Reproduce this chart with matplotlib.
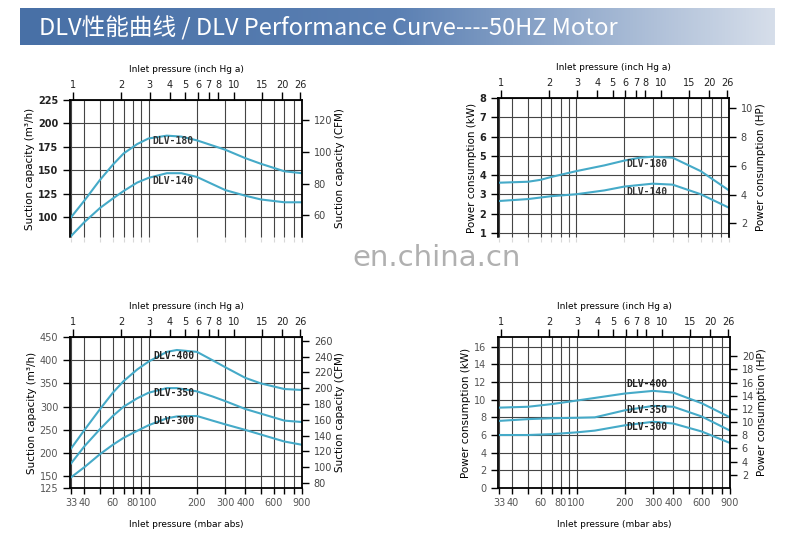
import matplotlib.pyplot as plt
import numpy as np
from matplotlib.colors import LinearSegmentedColormap

plt.rcParams['font.family'] = ['DejaVu Sans']

# x values in mbar abs
x_180 = [33, 40, 50, 60, 70, 85, 100, 130, 160, 200, 300, 400, 500, 700, 900]
y_180 = [100, 118, 140, 156, 168, 178, 184, 187, 186, 182, 172, 163, 157, 149, 147]
x_140 = [33, 40, 50, 60, 70, 85, 100, 130, 160, 200, 300, 400, 500, 700, 900]
y_140 = [80, 95, 110, 120, 128, 137, 142, 147, 147, 143, 129, 123, 119, 116, 116]

px_180 = [33, 50, 60, 70, 100, 150, 200, 250, 300, 400, 600, 900]
pw_180 = [3.6, 3.65, 3.75, 3.9, 4.2, 4.5, 4.75, 4.9, 4.95, 4.9, 4.2, 3.2]
px_140 = [33, 50, 70, 100, 150, 200, 300, 400, 600, 900]
pw_140 = [2.65, 2.75, 2.9, 3.0, 3.2, 3.4, 3.55, 3.5, 3.0, 2.3]

x_big = [33, 40, 50, 60, 70, 85, 100, 130, 150, 200, 250, 300, 400, 500, 700, 900]
y_400 = [210, 250, 295, 330, 355, 380, 397, 418, 422, 418, 400, 385, 362, 350, 338, 336]
y_350 = [178, 215, 252, 280, 300, 318, 330, 340, 340, 333, 322, 312, 295, 285, 270, 267]
y_300 = [148, 170, 198, 218, 233, 248, 260, 275, 279, 280, 270, 262, 250, 240, 225, 218]

pxb = [33, 50, 70, 100, 130, 200, 300, 400, 600, 900]
pw_400 = [9.1, 9.2, 9.5, 9.9, 10.2, 10.7, 11.0, 10.8, 9.6, 8.0]
pw_350 = [7.6, 7.8, 7.9, 7.95, 8.0, 8.8, 9.3, 9.2, 8.1, 6.5]
pw_300 = [6.0, 6.0, 6.1, 6.3, 6.5, 7.1, 7.5, 7.3, 6.4, 5.1]

inch_ticks = [1, 2, 3, 4, 5, 6, 7, 8, 10, 15, 20, 26]
mbar_grid = [33, 40, 50, 60, 70, 80, 90, 100, 200, 300, 400, 500, 600, 700, 800, 900]
mbar_labels = [33, 40, 60, 80, 100, 200, 300, 400, 600, 900]

CURVE = '#45aac8'
W, H = 800, 537
fig = plt.figure(figsize=(8, 5.37), dpi=100)

# header banner
bx = fig.add_axes([20 / W, 1 - 45 / H, 755 / W, 37 / H])
cmap = LinearSegmentedColormap.from_list('b', ['#4870a6', '#5b80b3', '#d6deea'])
bx.imshow(np.linspace(0, 1, 256)[None, :], aspect='auto', cmap=cmap, extent=[0, 1, 0, 1])
bx.axis('off')
bx.text(0.025, 0.45, 'DLV性能曲线 / DLV Performance Curve----50HZ Motor', color='white',
        fontsize=17, va='center', family=['Noto Sans CJK SC', 'DejaVu Sans'])


def panel(l, r, t, b, ylim, yticks, rfactor, rticks, ylabel, rlabel, cut, bold):
    ax = fig.add_axes([l / W, 1 - b / H, (r - l) / W, (b - t) / H])
    ax.set_xscale('log')
    ax.set_xlim(33 * 0.985, 900)
    ax.set_ylim(*ylim)
    ax.set_xticks(mbar_grid, minor=False)
    ax.xaxis.set_minor_locator(plt.NullLocator())
    ax.set_yticks(yticks)
    ax.grid(True, color='#444444', lw=0.8)
    ax.tick_params(axis='y', labelsize=7, length=5, width=1)
    for lab in ax.get_yticklabels():
        lab.set_fontweight('bold' if bold else 'normal')
        lab.set_color('#222222' if bold else '#555555')
    ax.set_ylabel(ylabel, fontsize=7.5, labelpad=2)
    for s in ax.spines.values():
        s.set_linewidth(1.3)
    if cut:
        ax.spines['bottom'].set_visible(False)
        ax.tick_params(axis='x', bottom=False, labelbottom=False)
    else:
        ax.set_xticks(mbar_grid)
        ax.set_xticklabels([str(v) if v in mbar_labels else '' for v in mbar_grid],
                           fontsize=7, color='#555555')
        ax.tick_params(axis='x', length=4, width=1)
        ax.set_xlabel('Inlet pressure (mbar abs)', fontsize=6.5, labelpad=8)
    top = ax.twiny()
    top.set_xscale('log')
    top.set_xlim(ax.get_xlim())
    top.set_xticks([v * 33.864 for v in inch_ticks])
    top.xaxis.set_minor_locator(plt.NullLocator())
    top.set_xticklabels([str(v) for v in inch_ticks], fontsize=7, color='#222222')
    top.tick_params(axis='x', length=6, width=1, pad=1)
    top.set_xlabel('Inlet pressure (inch Hg a)', fontsize=6.5, labelpad=6)
    for s in top.spines.values():
        s.set_visible(False)
    right = ax.twinx()
    right.set_ylim(ylim[0] * rfactor, ylim[1] * rfactor)
    right.set_yticks(rticks)
    right.tick_params(axis='y', labelsize=7, length=5, width=1, labelcolor='#444444')
    right.set_ylabel(rlabel, fontsize=7.5, labelpad=2)
    for s in right.spines.values():
        s.set_visible(False)
    return ax


a1 = panel(70, 302, 100, 237, (79, 225), [100, 125, 150, 175, 200, 225], 0.5886,
           [60, 80, 100, 120], 'Suction capacity (m³/h)', 'Suction capacity (CFM)', True, True)
a1.plot(x_180, y_180, color=CURVE, lw=1.5)
a1.plot(x_140, y_140, color=CURVE, lw=1.5)
a1.text(105, 178, 'DLV-180', family='DejaVu Sans Mono', fontsize=7, fontweight='bold', color='#333333')
a1.text(105, 135, 'DLV-140', family='DejaVu Sans Mono', fontsize=7, fontweight='bold', color='#333333')

a2 = panel(498, 729, 98, 237, (0.78, 8), list(range(1, 9)), 1.341,
           [2, 4, 6, 8, 10], 'Power consumption (kW)', 'Power consumption (HP)', True, True)
a2.plot(px_180, pw_180, color=CURVE, lw=1.5)
a2.plot(px_140, pw_140, color=CURVE, lw=1.5)
a2.text(205, 4.4, 'DLV-180', family='DejaVu Sans Mono', fontsize=7, fontweight='bold', color='#333333')
a2.text(205, 2.95, 'DLV-140', family='DejaVu Sans Mono', fontsize=7, fontweight='bold', color='#333333')

a3 = panel(70, 302, 337, 488, (125, 450), [125, 150, 200, 250, 300, 350, 400, 450], 0.5886,
           list(range(80, 261, 20)), 'Suction capacity (m³/h)', 'Suction capacity (CFM)', False, False)
for yy in (y_400, y_350, y_300):
    a3.plot(x_big, yy, color=CURVE, lw=1.5)
for txt, yv in (('DLV-400', 403), ('DLV-350', 323), ('DLV-300', 262)):
    a3.text(107, yv, txt, family='DejaVu Sans Mono', fontsize=7, fontweight='bold', color='#222222')

a4 = panel(498, 730, 337, 488, (0, 17.1), list(range(0, 17, 2)), 1.341,
           list(range(2, 21, 2)), 'Power consumption (kW)', 'Power consumption (HP)', False, False)
for yy in (pw_400, pw_350, pw_300):
    a4.plot(pxb, yy, color=CURVE, lw=1.5)
for txt, yv in (('DLV-400', 11.4), ('DLV-350', 8.5), ('DLV-300', 6.6)):
    a4.text(205, yv, txt, family='DejaVu Sans Mono', fontsize=7, fontweight='bold', color='#222222')

# watermark band
fig.patches.append(plt.Rectangle((60 / W, 1 - 256 / H), 680 / W, 18 / H, transform=fig.transFigure,
                                 color='white', alpha=0.85, zorder=10))
fig.text(437 / W, 1 - 258 / H, 'en.china.cn', fontsize=21, color='#b0b0b0', ha='center', va='center',
         zorder=11)

fig.savefig('out.png', dpi=100)
